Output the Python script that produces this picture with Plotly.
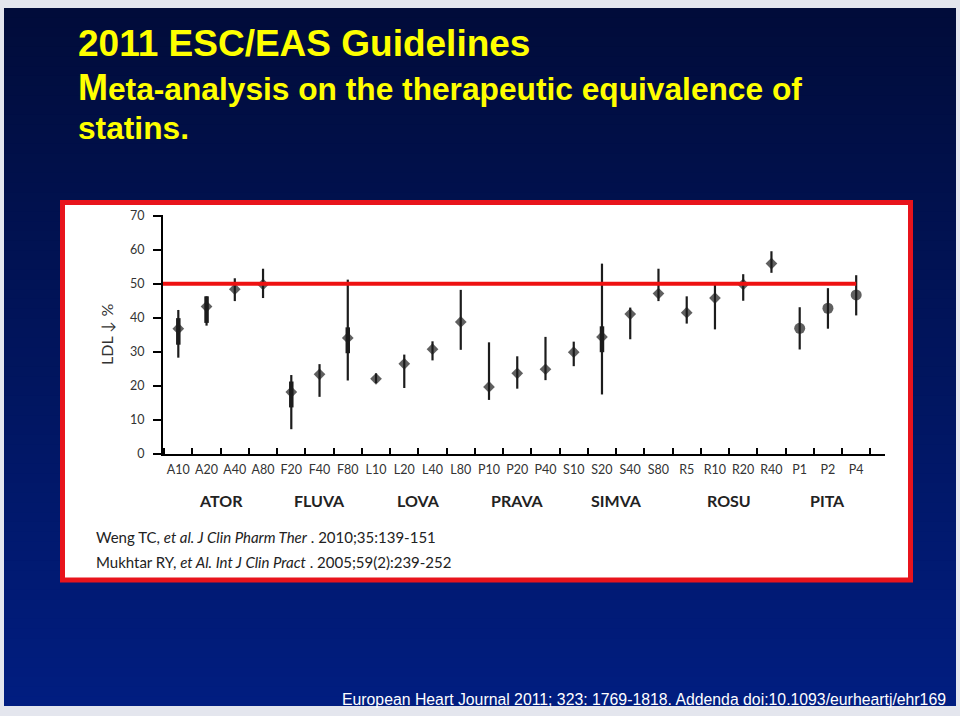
import plotly.graph_objects as go

# ---------------- data ----------------
categories = ["A10", "A20", "A40", "A80", "F20", "F40", "F80", "L10", "L20", "L40", "L80",
              "P10", "P20", "P40", "S10", "S20", "S40", "S80", "R5", "R10", "R20", "R40",
              "P1", "P2", "P4"]
ldl_mean = [36.8, 43.3, 48.4, 49.8, 18.2, 23.4, 34.1, 22.1, 26.5, 30.8, 38.8,
            19.7, 23.7, 24.9, 29.9, 34.4, 41.1, 47.1, 41.5, 45.8, 49.8, 55.9,
            36.9, 42.8, 46.7]
ldl_low = [28.3, 37.7, 44.9, 45.8, 7.3, 16.8, 21.6, 20.8, 19.4, 27.5, 30.6,
           15.9, 19.2, 21.7, 25.8, 17.5, 33.7, 44.9, 38.3, 36.6, 45.0, 53.2,
           30.7, 36.8, 40.7]
ldl_high = [42.3, 46.3, 51.6, 54.4, 23.2, 26.4, 51.2, 23.7, 29.2, 33.1, 48.2,
            32.8, 28.7, 34.4, 33.0, 55.9, 43.0, 54.4, 46.3, 50.4, 52.8, 59.5,
            43.1, 48.7, 52.5]
inner_low = [32.1, 38.5, None, None, 13.7, None, 29.6, None, None, None, None,
             None, None, None, None, 29.9, None, None, None, None, None, None,
             None, None, None]
inner_high = [39.9, 46.3, None, None, 21.3, None, 37.2, None, None, None, None,
              None, None, None, None, 37.5, None, None, None, None, None, None,
              None, None, None]
groups = ["ATOR", "FLUVA", "LOVA", "PRAVA", "SIMVA", "ROSU", "PITA"]
group_members = [["A10", "A20", "A40", "A80"], ["F20", "F40", "F80"],
                 ["L10", "L20", "L40", "L80"], ["P10", "P20", "P40"],
                 ["S10", "S20", "S40", "S80"], ["R5", "R10", "R20", "R40"],
                 ["P1", "P2", "P4"]]
target_ldl = 50
y_ticks = [0, 10, 20, 30, 40, 50, 60, 70]

W, H = 960, 716
def fx(px):
    return px / W
def fy(py):
    return 1 - py / H

INK = "#1c1c1c"
LBL = "Lato, 'Open Sans', sans-serif"
ARIAL = "'Liberation Sans', Arial, sans-serif"

fig = go.Figure()

# thin range lines
xs, ys = [], []
for c, lo, hi in zip(categories, ldl_low, ldl_high):
    xs += [c, c, None]
    ys += [lo, hi, None]
fig.add_trace(go.Scatter(x=xs, y=ys, mode="lines", line=dict(color=INK, width=2.2),
                         hoverinfo="skip", showlegend=False))
# thick inner segments
xs, ys = [], []
for c, lo, hi in zip(categories, inner_low, inner_high):
    if lo is None:
        continue
    xs += [c, c, None]
    ys += [lo, hi, None]
fig.add_trace(go.Scatter(x=xs, y=ys, mode="lines", line=dict(color=INK, width=4.5),
                         hoverinfo="skip", showlegend=False))
# markers
symbols = ["circle" if g == "PITA" else "diamond"
           for c in categories for g, m in zip(groups, group_members) if c in m]
sizes = [11 if s == "circle" else 9 for s in symbols]
fig.add_trace(go.Scatter(x=categories, y=ldl_mean, mode="markers",
                         marker=dict(symbol=symbols, size=sizes, color=INK,
                                     line=dict(width=0)),
                         showlegend=False))

shapes = []
# slide background gradient (vertical)
top_rgb = (1, 12, 58)
bot_rgb = (1, 29, 128)
n = 72
y_top, y_bot = 1, 713
for i in range(n):
    t = i / (n - 1)
    col = "rgb(%d,%d,%d)" % tuple(round(a + (b - a) * t) for a, b in zip(top_rgb, bot_rgb))
    y0 = y_top + (y_bot - y_top) * i / n
    y1 = y_top + (y_bot - y_top) * (i + 1) / n + 2
    shapes.append(dict(type="rect", xref="paper", yref="paper", layer="below",
                       x0=fx(4), x1=fx(956), y0=fy(min(y1, y_bot)), y1=fy(y0),
                       fillcolor=col, line=dict(width=0)))
# white panel with red border
shapes.append(dict(type="rect", xref="paper", yref="paper", layer="below",
                   x0=fx(62.5), x1=fx(910.5), y0=fy(584.5), y1=fy(199.5),
                   fillcolor="white", line=dict(color="#e8141c", width=5)))
# target line at 50 %
shapes.append(dict(type="line", xref="x", yref="y", layer="above",
                   x0=-0.55, x1=len(categories) - 1, y0=target_ldl, y1=target_ldl,
                   line=dict(color="#ee1111", width=4)))

annotations = []
# title
annotations.append(dict(xref="paper", yref="paper", x=fx(76), y=fy(37),
                        xanchor="left", yanchor="middle", showarrow=False,
                        text="<b>2011 ESC/EAS Guidelines</b>",
                        font=dict(family=ARIAL, size=37, color="#ffff00")))
annotations.append(dict(xref="paper", yref="paper", x=fx(76), y=fy(82),
                        xanchor="left", yanchor="middle", showarrow=False,
                        text="<b><span style=\"font-size:36px\">M</span>eta-analysis on the therapeutic equivalence of</b>",
                        font=dict(family=ARIAL, size=31.7, color="#ffff00")))
annotations.append(dict(xref="paper", yref="paper", x=fx(76), y=fy(123),
                        xanchor="left", yanchor="middle", showarrow=False,
                        text="<b>statins.</b>",
                        font=dict(family=ARIAL, size=31.7, color="#ffff00")))
# group labels
for g, members in zip(groups, group_members):
    idx = [categories.index(m) for m in members]
    annotations.append(dict(xref="x", yref="paper", x=sum(idx) / len(idx), y=fy(503),
                            xanchor="center", yanchor="middle", showarrow=False,
                            text="<b>%s</b>" % g,
                            font=dict(family=LBL, size=16, color="#222222")))
# references
annotations.append(dict(xref="paper", yref="paper", x=fx(94), y=fy(541),
                        xanchor="left", yanchor="middle", showarrow=False,
                        text="Weng TC, <i>et al. J Clin Pharm Ther</i> . 2010;35:139-151",
                        font=dict(family=LBL, size=15, color="#222222")))
annotations.append(dict(xref="paper", yref="paper", x=fx(94), y=fy(566),
                        xanchor="left", yanchor="middle", showarrow=False,
                        text="Mukhtar RY, <i>et Al. Int J Clin Pract</i> . 2005;59(2):239-252",
                        font=dict(family=LBL, size=15, color="#222222")))
# footer
annotations.append(dict(xref="paper", yref="paper", x=fx(340), y=fy(706),
                        xanchor="left", yanchor="middle", showarrow=False,
                        text="European Heart Journal 2011; 323: 1769-1818. Addenda doi:10.1093/eurheartj/ehr169",
                        font=dict(family=ARIAL, size=15.8, color="white")))

fig.update_layout(
    width=W, height=H,
    margin=dict(l=0, r=0, t=0, b=0),
    paper_bgcolor="#e4e6ee",
    plot_bgcolor="rgba(0,0,0,0)",
    shapes=shapes,
    annotations=annotations,
    showlegend=False,
    xaxis=dict(domain=[fx(163), fx(885)], type="category",
               categoryorder="array", categoryarray=categories,
               range=[-0.542, 25.02], tickson="boundaries", tickangle=0,
               ticks="inside", ticklen=6, tickwidth=1.5, tickcolor="black",
               showline=True, linecolor="black", linewidth=2,
               showgrid=False, zeroline=False, ticklabelstandoff=3,
               tickfont=dict(family=LBL, size=12.5, color="#333333")),
    yaxis=dict(domain=[fy(456), fy(211.7)], range=[0, 70.3],
               tickvals=y_ticks, ticks="outside", ticklen=8, tickwidth=1.5,
               tickcolor="black", showline=True, linecolor="black", linewidth=2,
               showgrid=False, zeroline=False, ticklabelstandoff=6,
               tickfont=dict(family=LBL, size=12.5, color="#333333"),
               title=dict(text="LDL ↓ %", standoff=12,
                          font=dict(family=LBL, size=16, color="#333333"))),
)

fig.write_html("out.html")
